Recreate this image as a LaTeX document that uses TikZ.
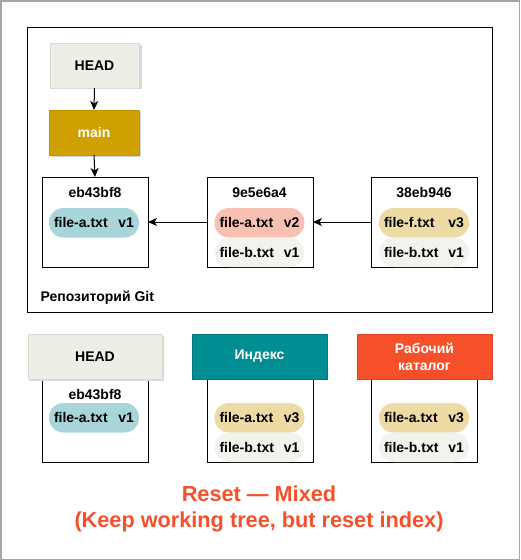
\documentclass[tikz,border=0pt]{standalone}
\usepackage{fontspec}
\setmainfont{Liberation Sans}
\usetikzlibrary{arrows.meta}
\definecolor{headfill}{HTML}{EEEEE6}
\definecolor{headline}{HTML}{DADAD0}
\definecolor{mainfill}{HTML}{CFA000}
\definecolor{mainline}{HTML}{C09400}
\definecolor{idxfill}{HTML}{008E93}
\definecolor{idxline}{HTML}{007A7F}
\definecolor{wdfill}{HTML}{F5502A}
\definecolor{wdline}{HTML}{D64424}
\definecolor{pteal}{HTML}{A8D5D9}
\definecolor{ppink}{HTML}{F8C0B2}
\definecolor{ptan}{HTML}{EDDBA6}
\definecolor{pgray}{HTML}{F3F3EE}
\definecolor{titlec}{HTML}{F5502A}
\tikzset{
  txt/.style={font=\fontsize{14}{17}\selectfont\bfseries},
  header/.style={txt, anchor=north west, minimum width=#1, minimum height=45, inner sep=0pt, outer sep=0pt, line width=0.8pt, align=center},
  shadowbox/.style={fill=black!15, draw=none},
  commit/.style={draw=black, line width=1pt, anchor=north west, minimum width=106, minimum height=90, inner sep=0pt, outer sep=0pt},
  hash/.style={txt, inner sep=0pt},
  pill/.style={txt, anchor=north west, rounded corners=14.5pt, minimum height=29.5, text width=80pt, inner xsep=5pt, inner ysep=0pt, outer sep=0pt},
  link/.style={line width=1pt, -{Stealth[length=9pt, width=8pt, inset=2.5pt]}},
}
\newcommand{\ptext}[2]{#1\hfill #2}
\begin{document}
\begin{tikzpicture}[x=1pt, y=-1pt]
  \path[use as bounding box] (0,0) rectangle (520,560);
  \draw[draw=black!35, line width=1.5pt] (0.75,0.75) rectangle (519.25,559.25);

  % repository frame
  \node[draw=black, line width=1pt, anchor=north west, minimum width=465, minimum height=285, inner sep=0pt, outer sep=0pt] (repo) at (27,27) {};
  \node[txt, anchor=west] (repolbl) at (37,298) {Репозиторий Git};

  % HEAD and main
  \fill[shadowbox] (52,45) rectangle (141.5,89);
  \node[header=89, fill=headfill, draw=headline] (head) at (50,43) {HEAD};
  \fill[shadowbox] (51,112) rectangle (141,157);
  \node[header=90, fill=mainfill, draw=mainline, text=white] (main) at (49,110) {main};

  % commits
  \node[commit] (c1) at (42,177) {};
  \node[hash] (c1h) at (95,193) {eb43bf8};
  \node[pill, fill=pteal] (c1a) at (49,208) {\ptext{file-a.txt}{v1}};

  \node[commit] (c2) at (207,177) {};
  \node[hash] (c2h) at (259.5,193) {9e5e6a4};
  \node[pill, fill=ppink] (c2a) at (214.5,208) {\ptext{file-a.txt}{v2}};
  \node[pill, fill=pgray] (c2b) at (214.5,237.5) {\ptext{file-b.txt}{v1}};

  \node[commit] (c3) at (371,177) {};
  \node[hash] (c3h) at (424,193) {38eb946};
  \node[pill, fill=ptan] (c3a) at (379,208) {\ptext{file-f.txt}{v3}};
  \node[pill, fill=pgray] (c3b) at (379,237.5) {\ptext{file-b.txt}{v1}};

  \draw[link] (head.south) -- (main.north);
  \draw[link] (main.south) -- (c1.north);
  \draw[link] (c3.west) -- (c2.east);
  \draw[link] (c2.west) -- (c1.east);

  % bottom row
  \node[commit, minimum height=83] (hb) at (42,379) {};
  \fill[shadowbox] (30,336) rectangle (164,381);
  \node[header=134, fill=headfill, draw=headline] (head2) at (28,334) {HEAD};
  \node[hash] (hbh) at (95,395) {eb43bf8};
  \node[pill, fill=pteal] (hba) at (49,403) {\ptext{file-a.txt}{v1}};

  \node[commit, minimum height=83] (ib) at (207,379) {};
  \node[header=135, fill=idxfill, draw=idxline, text=white] (idx) at (192,334) {Индекс};
  \node[pill, fill=ptan] (iba) at (214.5,403) {\ptext{file-a.txt}{v3}};
  \node[pill, fill=pgray] (ibb) at (214.5,432.5) {\ptext{file-b.txt}{v1}};

  \node[commit, minimum height=83] (wb) at (371,379) {};
  \node[header=135, fill=wdfill, draw=wdline, text=white] (wd) at (357,334) {Рабочий\\каталог};
  \node[pill, fill=ptan] (wba) at (379,403) {\ptext{file-a.txt}{v3}};
  \node[pill, fill=pgray] (wbb) at (379,432.5) {\ptext{file-b.txt}{v1}};

  % title
  \node[font=\fontsize{21.7}{26}\selectfont\bfseries, text=titlec, align=center, anchor=north] (title) at (259,482) {Reset — Mixed\\(Keep working tree, but reset index)};
\end{tikzpicture}
\end{document}
